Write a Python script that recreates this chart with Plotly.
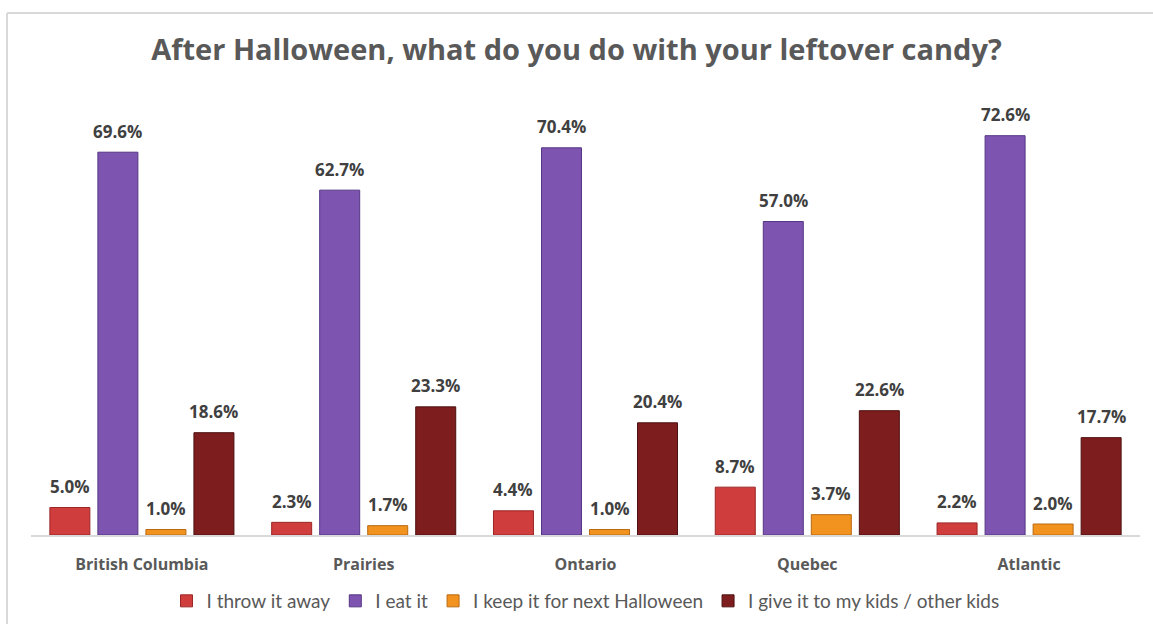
import plotly.graph_objects as go

regions = ["British Columbia", "Prairies", "Ontario", "Quebec", "Atlantic"]
series_names = [
    "I throw it away",
    "I eat it",
    "I keep it for next Halloween",
    "I give it to my kids / other kids",
]
throw_away = [5.0, 2.3, 4.4, 8.7, 2.2]
eat_it = [69.6, 62.7, 70.4, 57.0, 72.6]
keep_it = [1.0, 1.7, 1.0, 3.7, 2.0]
give_it = [18.6, 23.3, 20.4, 22.6, 17.7]
series_values = [throw_away, eat_it, keep_it, give_it]

colors = ["#cf3d3d", "#7d55b0", "#f2921f", "#7e1d1d"]
outlines = ["#9c2626", "#553585", "#b96a12", "#4e1010"]

W, H = 1153, 624
M_L, M_R, M_T, M_B = 31, 13, 95, 89
BARGAP, GROUPGAP = 0.134, 0.167

fig = go.Figure()
for name, vals, c, oc in zip(series_names, series_values, colors, outlines):
    fig.add_trace(go.Bar(
        name=name, x=regions, y=vals,
        marker=dict(color=c, line=dict(color=oc, width=1)),
        hoverinfo="skip",
    ))

# value labels above each bar, shifted horizontally to the bar's slot in the group
plot_w = W - M_L - M_R
slot = plot_w / len(regions) * (1 - BARGAP) / len(series_values)
for i, vals in enumerate(series_values):
    dx = (i - (len(series_values) - 1) / 2) * slot
    for reg, v in zip(regions, vals):
        fig.add_annotation(
            x=reg, y=v, text=f"{v:.1f}%", showarrow=False,
            xshift=dx, yshift=21, yanchor="middle",
            font=dict(family="Open Sans", size=17, color="#404040", weight="bold"),
        )

# light frame around the chart
plot_h = H - M_T - M_B
fx = -(M_L - 7) / plot_w
fy = 1 + (M_T - 13) / plot_h
for x0, y0, x1, y1 in [(fx, fy, 1.05, fy), (fx, fy, fx, -0.3)]:
    fig.add_shape(type="line", xref="paper", yref="paper", x0=x0, y0=y0, x1=x1, y1=y1,
                  line=dict(color="#d9d9d9", width=2))

fig.update_layout(
    width=W, height=H,
    margin=dict(l=M_L, r=M_R, t=M_T, b=M_B, autoexpand=False),
    paper_bgcolor="white", plot_bgcolor="white",
    barmode="group", bargap=BARGAP, bargroupgap=GROUPGAP,
    title=dict(
        text="After Halloween, what do you do with your leftover candy?",
        x=0.5, xanchor="center", y=1 - 50 / H, yanchor="middle",
        font=dict(family="Open Sans", size=29, color="#595959", weight="bold"),
    ),
    xaxis=dict(
        showline=True, linecolor="#d9d9d9", linewidth=1.5, ticks="",
        tickfont=dict(family="Open Sans", size=16, color="#595959", weight="bold"),
        showgrid=False, automargin=False, ticklabelstandoff=14,
    ),
    yaxis=dict(range=[0, 80], visible=False, showgrid=False, automargin=False),
    legend=dict(
        orientation="h", x=0.5, xanchor="center",
        yref="container", y=1 - 601 / H, yanchor="middle",
        font=dict(family="Lato", size=19, color="#595959"),
        itemwidth=30, traceorder="normal",
    ),
    showlegend=True,
)

fig.write_html("out.html")
